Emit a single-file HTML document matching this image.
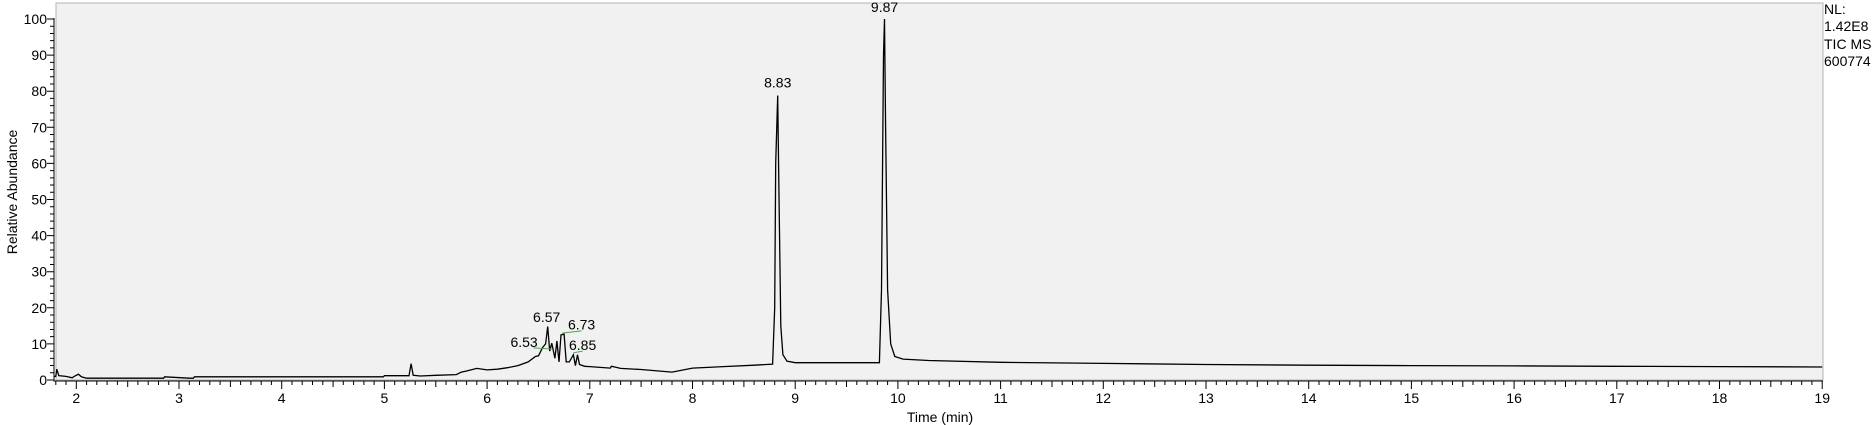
<!DOCTYPE html>
<html><head><meta charset="utf-8"><style>
html,body{margin:0;padding:0;background:#fff;}
svg{display:block;font-family:"Liberation Sans",Arial,sans-serif;}
</style></head><body>
<svg id="chart" width="1875" height="425">
<rect x="56" y="3" width="1767" height="377" fill="#f1f1f1" stroke="#b4b4b4"/>
<g id="axes"></g>
<g id="trace"></g>
<g id="labels"></g>
<text x="940" y="422" font-size="14" text-anchor="middle">Time (min)</text>
<text transform="translate(17,192) rotate(-90)" font-size="14" text-anchor="middle">Relative Abundance</text>
<g font-size="14" fill="#000">
<text x="1824" y="14">NL:</text>
<text x="1824" y="31">1.42E8</text>
<text x="1824" y="49">TIC  MS</text>
<text x="1824" y="66">600774</text>
</g>
</svg>
<script>
const times = [1.78,1.8,1.81,1.83,1.9,1.96,1.98,2.02,2.05,2.1,2.8,2.85,2.86,3.1,3.14,3.15,4.99,5.0,5.2,5.24,5.26,5.28,5.35,5.5,5.7,5.75,5.8,5.9,6.0,6.1,6.2,6.3,6.4,6.47,6.5,6.54,6.57,6.59,6.61,6.63,6.66,6.68,6.7,6.72,6.75,6.77,6.8,6.84,6.86,6.88,6.9,6.95,7.0,7.1,7.2,7.21,7.3,7.5,7.8,8.0,8.3,8.6,8.78,8.8,8.81,8.83,8.84,8.86,8.88,8.92,9.0,9.4,9.82,9.84,9.86,9.87,9.88,9.9,9.93,9.97,10.05,10.3,11,12,13,14,15,16,17,18,19];
const values = [1,1,3,1.2,1,0.6,1,1.6,0.9,0.5,0.5,0.5,0.9,0.5,0.5,0.9,0.9,1.2,1.2,1.2,4.5,1.3,1.1,1.3,1.5,2.2,2.5,3.2,2.8,3,3.4,4,5,6.5,6.7,9,10,14.8,8,10.2,6,10.8,5,12.5,12.7,5,5,7,4,7,4.3,3.8,3.7,3.5,3.3,3.8,3.2,2.9,2.2,3.3,3.7,4.1,4.4,20,60,78.8,55,15,7,5.2,4.8,4.8,4.8,25,90,100,70,25,10,6.5,5.8,5.4,4.9,4.6,4.3,4.1,4,3.9,3.8,3.7,3.6];
const peakTimes = ["6.53","6.57","6.73","6.85","8.83","9.87"];
const peakLabelPos = [[6.36,9.2],[6.58,16],[6.92,14],[6.93,8.3],[8.83,81],[9.87,102]];
const xTicks = [2,3,4,5,6,7,8,9,10,11,12,13,14,15,16,17,18,19];
const yTicks = [0,10,20,30,40,50,60,70,80,90,100];

const NS="http://www.w3.org/2000/svg";
const X0=76.3, PXM=102.7, Y0=380, PXU=3.61;
const sx=t=>X0+(t-2)*PXM, sy=v=>Y0-v*PXU;
function mk(tag,attrs,parent){const e=document.createElementNS(NS,tag);for(const k in attrs)e.setAttribute(k,attrs[k]);parent.appendChild(e);return e;}
const axes=document.getElementById('axes');
let d='';
d+=`M54,${sy(100)-1}V381H1823`;
for(let v=0;v<=100;v+=2){const L=v%10===0?7:4;d+=`M54,${sy(v)}h${-L}`;}
for(let t=1.8;t<=19.001;t+=0.1){const tt=Math.round(t*10)/10;const L=Number.isInteger(tt)?8:(Math.abs(tt*2-Math.round(tt*2))<1e-6?6:4);d+=`M${sx(tt).toFixed(1)},381v${L}`;}
const ax=mk('path',{d:d,stroke:'#000','stroke-width':1,fill:'none'},axes);


yTicks.forEach(v=>{const t=mk('text',{x:47,y:sy(v)+5,'font-size':14,'text-anchor':'end'},axes);t.textContent=v;

});
xTicks.forEach(v=>{const t=mk('text',{x:sx(v),y:403,'font-size':14,'text-anchor':'middle'},axes);t.textContent=v;

});
const pts=times.map((t,i)=>sx(t).toFixed(1)+','+sy(values[i]).toFixed(1)).join(' ');
const line=mk('polyline',{points:pts,fill:'none',stroke:'#000','stroke-width':1.3},document.getElementById('trace'));


const lg=document.getElementById('labels');
peakTimes.forEach((p,i)=>{const [t,v]=peakLabelPos[i];const e=mk('text',{x:sx(t),y:sy(v),'font-size':14,'text-anchor':'middle'},lg);e.textContent=p;

});
const greens=[[6.45,6.63,8.9,8.6],[6.73,6.92,13,13.6],[6.84,6.93,7.5,8]];
greens.forEach(g=>{const l=mk('line',{x1:sx(g[0]),x2:sx(g[1]),y1:sy(g[2]),y2:sy(g[3]),stroke:'#3cb043','stroke-width':1},lg);

});
</script>
</body></html>
